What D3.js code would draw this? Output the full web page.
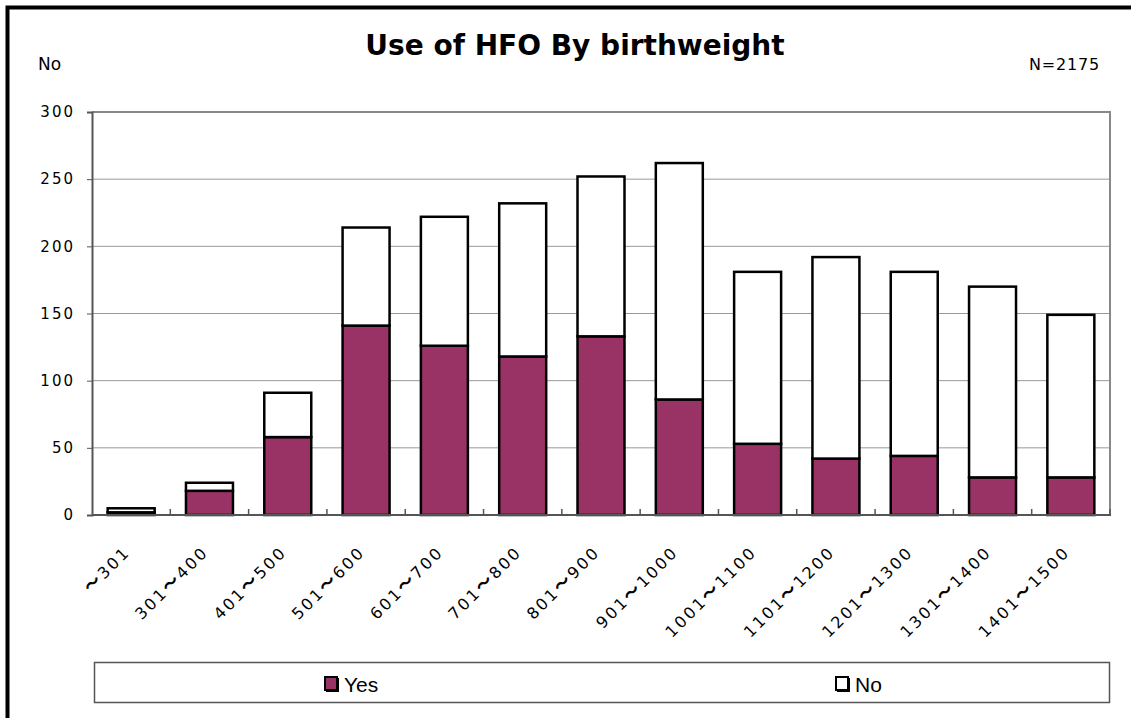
<!DOCTYPE html>
<html><head><meta charset="utf-8">
<script src="https://cdn.jsdelivr.net/npm/d3@7"></script>
<style>body{margin:0;background:#fff}svg{display:block}</style>
</head><body>
<script>
const categories = ["〜301","301〜400","401〜500","501〜600","601〜700","701〜800","801〜900","901〜1000","1001〜1100","1101〜1200","1201〜1300","1301〜1400","1401〜1500"];
const yesValues = [2,18,58,141,126,118,133,86,53,42,44,28,28];
const noValues  = [3,6,33,73,96,114,119,176,128,150,137,142,121];
const yTicks = [0,50,100,150,200,250,300];
const seriesNames = ["Yes","No"];
const seriesColors = ["#993366","#ffffff"];

const W=1136,H=718;
const svg=d3.select("body").append("svg").attr("width",W).attr("height",H);
const m={l:92,t:112,r:1110,b:515};

// outer frame
svg.append("path").attr("d",`M7.5,${H+5} L7.5,7.5 L1131,7.5`).attr("fill","none").attr("stroke","#000").attr("stroke-width",4);

const x=d3.scaleBand().domain(categories).range([m.l,m.r]).paddingInner(0.4).paddingOuter(0.2);
const y=d3.scaleLinear().domain([0,300]).range([m.b,m.t]);

// grid
svg.append("g").selectAll("line").data(yTicks.filter(d=>d>0 && d<300)).join("line")
 .attr("x1",m.l).attr("x2",m.r).attr("y1",d=>y(d)).attr("y2",d=>y(d))
 .attr("stroke","#999").attr("stroke-width",1);
// plot border top/right
svg.append("path").attr("d",`M${m.l},${m.t} L${m.r},${m.t} L${m.r},${m.b}`).attr("fill","none").attr("stroke","#888").attr("stroke-width",2);

const data=categories.map((c,i)=>({c,yes:yesValues[i],no:noValues[i]}));
const stack=d3.stack().keys(["yes","no"])(data);
svg.append("g").selectAll("g").data(stack).join("g")
 .attr("fill",(d,i)=>seriesColors[i])
 .selectAll("rect").data(d=>d).join("rect")
 .attr("x",d=>x(d.data.c)).attr("width",x.bandwidth())
 .attr("y",d=>y(d[1])).attr("height",d=>y(d[0])-y(d[1]))
 .attr("stroke","#000").attr("stroke-width",2.5);

// axes
const yAxis=d3.axisLeft(y).tickValues(yTicks).tickSize(5).tickPadding(14);
const gy=svg.append("g").attr("transform",`translate(${m.l},0)`).call(yAxis);
gy.select(".domain").attr("stroke","#555").attr("stroke-width",2);
gy.selectAll(".tick line").attr("stroke","#555");
gy.selectAll("text").attr("font-family","DejaVu Sans").attr("font-size",15).attr("letter-spacing","2px").attr("fill","#000").attr("dy","0.32em").attr("dx","2px");

const step=x.step();
const gx=svg.append("g").attr("transform",`translate(0,${m.b})`);
gx.append("line").attr("x1",m.l).attr("x2",m.r+1).attr("stroke","#555").attr("stroke-width",2);
gx.selectAll("line.tk").data(d3.range(1,categories.length+1)).join("line").attr("class","tk")
 .attr("x1",i=>m.l+i*step).attr("x2",i=>m.l+i*step).attr("y1",0).attr("y2",-6).attr("stroke","#555").attr("stroke-width",1.5);
const xAxis=d3.axisBottom(x).tickSize(0).tickPadding(0);
const gxa=svg.append("g").attr("transform",`translate(0,${m.b})`).call(xAxis);
gxa.select(".domain").remove();
gxa.selectAll("text").attr("font-family","DejaVu Sans, Noto Sans CJK JP").attr("font-size",16).attr("letter-spacing","2.5px").attr("fill","#000")
 .attr("text-anchor","end").attr("dy",0).attr("y",0)
 .attr("transform","translate(0,38) rotate(-45)")
 .each(function(d){
   const t=d3.select(this); t.text(null);
   const parts=d.split("〜");
   if(parts[0]) t.append("tspan").text(parts[0]);
   t.append("tspan").attr("font-family","Noto Sans CJK JP").attr("font-weight","bold").attr("font-size",17).text("〜");
   t.append("tspan").text(parts[1]);
 });

// title and annotations
svg.append("text").attr("x",575).attr("y",55).attr("text-anchor","middle").attr("font-family","DejaVu Sans").attr("font-weight","bold").attr("font-size",28).text("Use of HFO By birthweight");
svg.append("text").attr("x",38).attr("y",70).attr("font-family","DejaVu Sans").attr("font-size",17).text("No");
svg.append("text").attr("x",1100).attr("y",70).attr("text-anchor","end").attr("font-family","DejaVu Sans").attr("font-size",16).attr("letter-spacing","0.8px").text("N=2175");

// legend
svg.append("rect").attr("x",94.5).attr("y",662.5).attr("width",1015).attr("height",40).attr("fill","#fff").attr("stroke","#555").attr("stroke-width",1.5);
const lx=[325,836];
const lg=svg.append("g").selectAll("g").data(seriesNames).join("g").attr("transform",(d,i)=>`translate(${lx[i]},677)`);
lg.append("rect").attr("x",1).attr("y",1).attr("width",13).attr("height",14).attr("fill","#000");
lg.append("rect").attr("width",12).attr("height",13).attr("fill",(d,i)=>seriesColors[i]).attr("stroke","#000").attr("stroke-width",2);
lg.append("text").attr("x",19).attr("y",15).attr("font-family","Liberation Sans Narrow, Liberation Sans").attr("font-size",21).text(d=>d);
</script>
</body></html>
